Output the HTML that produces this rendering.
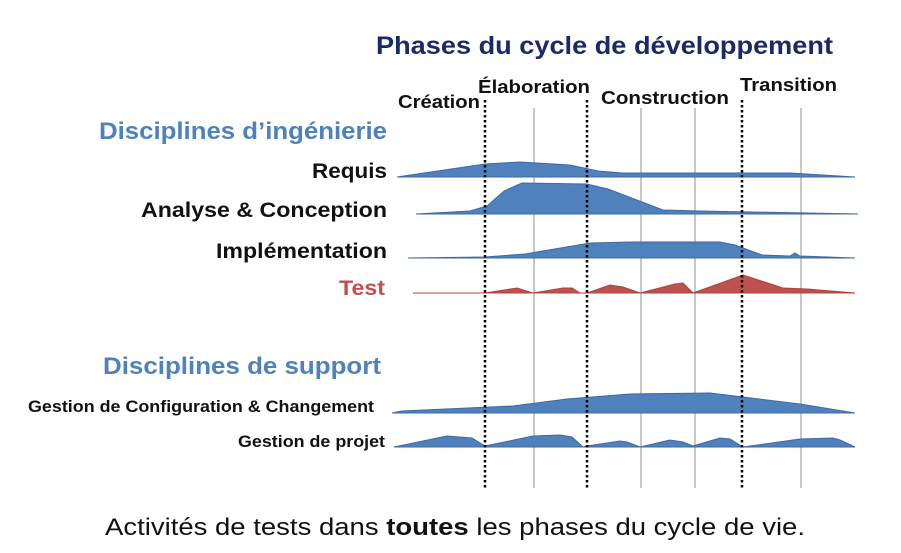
<!DOCTYPE html>
<html><head><meta charset="utf-8"><style>
body{margin:0;background:#fff;}
svg{display:block;font-family:"Liberation Sans",sans-serif;}
</style></head><body>
<svg width="901" height="553" viewBox="0 0 901 553">
<text x="376" y="54" font-size="25" font-weight="bold" fill="#1a2a66" textLength="457" lengthAdjust="spacingAndGlyphs">Phases du cycle de développement</text>
<g font-size="18" font-weight="bold" fill="#111">
<text x="398" y="108" textLength="82" lengthAdjust="spacingAndGlyphs">Création</text>
<text x="478" y="93" textLength="112" lengthAdjust="spacingAndGlyphs">Élaboration</text>
<text x="601" y="104" textLength="128" lengthAdjust="spacingAndGlyphs">Construction</text>
<text x="740" y="91" textLength="97" lengthAdjust="spacingAndGlyphs">Transition</text>
</g>
<text x="99" y="139" font-size="24" font-weight="bold" fill="#4f81bd" textLength="288" lengthAdjust="spacingAndGlyphs">Disciplines d’ingénierie</text>
<g font-size="21" font-weight="bold" fill="#111" text-anchor="end">
<text x="387" y="178" textLength="75" lengthAdjust="spacingAndGlyphs">Requis</text>
<text x="387" y="217" textLength="246" lengthAdjust="spacingAndGlyphs">Analyse &amp; Conception</text>
<text x="387" y="258" textLength="171" lengthAdjust="spacingAndGlyphs">Implémentation</text>
<text x="385" y="295" fill="#c0504d" textLength="46" lengthAdjust="spacingAndGlyphs">Test</text>
</g>
<text x="103" y="374" font-size="24" font-weight="bold" fill="#4f81bd" textLength="278" lengthAdjust="spacingAndGlyphs">Disciplines de support</text>
<g font-size="17" font-weight="bold" fill="#111" text-anchor="end">
<text x="374" y="412" textLength="346" lengthAdjust="spacingAndGlyphs">Gestion de Configuration &amp; Changement</text>
<text x="385" y="447" textLength="147" lengthAdjust="spacingAndGlyphs">Gestion de projet</text>
</g>
<g id="marks"></g>
<text x="105" y="535" font-size="24" fill="#111" textLength="700" lengthAdjust="spacingAndGlyphs">Activités de tests dans <tspan font-weight="bold">toutes</tspan> les phases du cycle de vie.</text>
</svg>
<script>
// timeline units: days 0..458
const phaseBoundaries=[88,190,345];
const iterationLines=[137,244,298,404];
const requisT=[0,88,123,173,201,225,393,458];
const requisH=[0,13,15,12,6,4,4,0];
const analyseT=[19,73,90,107,125,190,211,266,303,461];
const analyseH=[0,3,8,23,31,30,25,4,3,0];
const implT=[11,88,128,193,233,323,338,365,393,398,403,458];
const implH=[0,1,4,15,16,16,13,3,2,5,2,0];
const testT=[16,88,120,136,166,175,183,190,213,226,243,278,286,296,346,386,410,458];
const testH=[0,0,5,0,5,5,0,0,8,6,0,9,10,0,18,5,4,0];
const configT=[-5,5,116,170,233,313,346,403,458];
const configH=[0,2,7,14,19,20,16,9,0];
const projetT=[-3,50,75,88,136,163,175,186,190,223,230,243,273,286,296,323,333,346,403,436,443,458];
const projetH=[0,11,9,1,11,12,10,0,1,6,5,0,7,5,1,9,8,0,8,9,7,0];
const xs=t=>397+t;
const g=document.getElementById('marks');
const NS='http://www.w3.org/2000/svg';
iterationLines.forEach((t,i)=>{const l=document.createElementNS(NS,'line');
l.setAttribute('x1',xs(t));l.setAttribute('x2',xs(t));l.setAttribute('y1',108);l.setAttribute('y2',488);
l.setAttribute('stroke','#aaa');l.setAttribute('stroke-width','1.3');


g.appendChild(l);});
function area(T,H,base,color,name){
 let d='M'+xs(T[0])+','+base;
 T.forEach((t,i)=>{d+=' L'+xs(t)+','+(base-H[i]);});
 d+=' L'+xs(T[T.length-1])+','+base+' Z';
 const p=document.createElementNS(NS,'path');p.setAttribute('d',d);p.setAttribute('fill',color);
 p.setAttribute('stroke',color==='#4f81bd'?'#3f6aa0':'#a84440');p.setAttribute('stroke-width','1');
 
 
 g.appendChild(p);
}
area(requisT,requisH,177,'#4f81bd','requis-area');
area(analyseT,analyseH,214,'#4f81bd','analyse-area');
area(implT,implH,258,'#4f81bd','implementation-area');
area(testT,testH,293,'#c0504d','test-area');
area(configT,configH,413,'#4f81bd','config-area');
area(projetT,projetH,447,'#4f81bd','projet-area');
phaseBoundaries.forEach(t=>{const l=document.createElementNS(NS,'line');
l.setAttribute('x1',xs(t));l.setAttribute('x2',xs(t));l.setAttribute('y1',100);l.setAttribute('y2',488);
l.setAttribute('stroke','#000');l.setAttribute('stroke-width','2.5');l.setAttribute('stroke-dasharray','2.5,2.5');


g.appendChild(l);});
</script>
</body></html>
